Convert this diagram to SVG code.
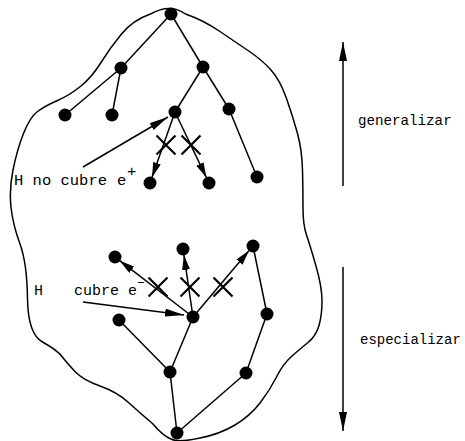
<svg xmlns="http://www.w3.org/2000/svg" width="465" height="441" viewBox="0 0 465 441">
  <defs>
    <marker id="head" markerUnits="userSpaceOnUse" markerWidth="16" markerHeight="9" refX="15" refY="4" orient="auto">
      <path d="M0,0 L15,4 L0,8 z" fill="#000"/>
    </marker>
    <marker id="headLong" markerUnits="userSpaceOnUse" markerWidth="20" markerHeight="9" refX="19" refY="4" orient="auto">
      <path d="M0,0 L19,4 L0,8 z" fill="#000"/>
    </marker>
  </defs>
  <style>
    .hull { fill: none; stroke: #000; stroke-width: 1.5; }
    .edge { stroke: #000; stroke-width: 1.5; fill: none; }
    .arrow { stroke: #000; stroke-width: 1.5; fill: none; marker-end: url(#head); }
    .pointer { stroke: #000; stroke-width: 1.5; fill: none; marker-end: url(#headLong); }
    .cross { stroke: #000; stroke-width: 2.2; fill: none; }
    .node { fill: #000; }
    .lbl { font-family: "Liberation Mono", "Courier New", monospace; fill: #000; }
  </style>

  <!-- boundary of the hypothesis space -->
  <path class="hull" d="M150.5,14 Q170,3 185.5,14 Q203,20 220,31.5 Q237,43 249.5,51.5 Q262,60 271,70 Q280,80 286.5,98.5 Q293,117 297.5,133.5 Q302,150 302.5,170 Q303,190 303,207.5 Q303,225 306.5,235 Q310,245 316,266 Q322,287 322,301 Q322,315 319,325.5 Q316,336 308,342.5 Q300,349 291.5,356.5 Q283,364 276.5,377 Q270,390 260,403 Q250,416 235,425 Q220,434 200,438 Q178,443 171,439 Q163,436 152.5,423.5 Q140,413 128.5,402.5 Q117,392 100,386 Q83,380 75,371.5 Q67,363 62,356.5 Q57,350 42.5,342 Q28,334 27.5,298.5 Q27,263 20,244 Q13,225 11,207.5 Q9,190 13,170 Q17,150 23.5,133.5 Q30,117 37.5,111.5 Q45,106 57.5,100.5 Q70,95 81,86 Q92,77 101,62.5 Q110,48 121.5,34 Q133,20 150.5,14 Z"/>

  <!-- connectors -->
  <g id="connectors">
    <!-- upper tree -->
    <line class="edge" x1="171" y1="14" x2="121" y2="68"/>
    <line class="edge" x1="171" y1="14" x2="203" y2="67"/>
    <line class="edge" x1="121" y1="68" x2="65" y2="115"/>
    <line class="edge" x1="121" y1="68" x2="112" y2="115"/>
    <line class="edge" x1="203" y1="67" x2="175" y2="112"/>
    <line class="edge" x1="203" y1="67" x2="229" y2="109"/>
    <line class="edge" x1="229" y1="109" x2="257" y2="177"/>
    <line class="arrow" x1="175" y1="112" x2="152" y2="177.3"/>
    <line class="arrow" x1="175" y1="112" x2="206.4" y2="177.6"/>
    <!-- lower tree -->
    <line class="edge" x1="177" y1="433" x2="170" y2="372"/>
    <line class="edge" x1="177" y1="433" x2="246" y2="373"/>
    <line class="edge" x1="170" y1="372" x2="119" y2="320"/>
    <line class="edge" x1="170" y1="372" x2="193" y2="317"/>
    <line class="edge" x1="246" y1="373" x2="267" y2="314"/>
    <line class="edge" x1="267" y1="314" x2="253" y2="246"/>
    <line class="arrow" x1="193" y1="317" x2="119.8" y2="260.7"/>
    <line class="arrow" x1="193" y1="317" x2="183.9" y2="254.9"/>
    <line class="arrow" x1="193" y1="317" x2="249.1" y2="250.6"/>
    <!-- label pointers -->
    <line class="pointer" x1="83" y1="167" x2="168" y2="117"/>
    <line class="pointer" x1="83" y1="302" x2="184" y2="315"/>
    <!-- direction arrows -->
    <line class="pointer" x1="343" y1="186" x2="343" y2="42"/>
    <line class="pointer" x1="343" y1="267" x2="343" y2="431"/>
    <!-- blocked refinements -->
    <path class="cross" d="M156.5,135.5 L175.5,154.5 M156.5,154.5 L175.5,135.5"/>
    <path class="cross" d="M181.5,135.5 L200.5,154.5 M181.5,154.5 L200.5,135.5"/>
    <path class="cross" d="M148.5,277.5 L167.5,296.5 M148.5,296.5 L167.5,277.5"/>
    <path class="cross" d="M180.5,277.5 L199.5,296.5 M180.5,296.5 L199.5,277.5"/>
    <path class="cross" d="M213.5,277.5 L232.5,296.5 M213.5,296.5 L232.5,277.5"/>
  </g>

  <!-- upper tree nodes -->
  <g id="n-root"><circle class="node" cx="171" cy="14" r="6.5"/></g>
  <g id="n-a"><circle class="node" cx="121" cy="68" r="6.5"/></g>
  <g id="n-b"><circle class="node" cx="203" cy="67" r="6.5"/></g>
  <g id="n-a1"><circle class="node" cx="65" cy="115" r="6.5"/></g>
  <g id="n-a2"><circle class="node" cx="112" cy="115" r="6.5"/></g>
  <g id="n-b1"><circle class="node" cx="175" cy="112" r="6.5"/></g>
  <g id="n-b2"><circle class="node" cx="229" cy="109" r="6.5"/></g>
  <g id="n-b1a"><circle class="node" cx="150" cy="183" r="6.5"/></g>
  <g id="n-b1b"><circle class="node" cx="209" cy="183" r="6.5"/></g>
  <g id="n-b2a"><circle class="node" cx="257" cy="177" r="6.5"/></g>

  <!-- lower tree nodes -->
  <g id="m-root"><circle class="node" cx="177" cy="433" r="6.5"/></g>
  <g id="m-f"><circle class="node" cx="170" cy="372" r="6.5"/></g>
  <g id="m-g"><circle class="node" cx="246" cy="373" r="6.5"/></g>
  <g id="m-d"><circle class="node" cx="119" cy="320" r="6.5"/></g>
  <g id="m-c"><circle class="node" cx="193" cy="317" r="6.5"/></g>
  <g id="m-e"><circle class="node" cx="267" cy="314" r="6.5"/></g>
  <g id="m-b1"><circle class="node" cx="115" cy="257" r="6.5"/></g>
  <g id="m-b2"><circle class="node" cx="183" cy="249" r="6.5"/></g>
  <g id="m-b3"><circle class="node" cx="253" cy="246" r="6.5"/></g>

  <!-- labels -->
  <g id="label-neg">
    <text class="lbl" x="14" y="185" font-size="15.5">H no cubre <tspan x="117">e</tspan><tspan x="127" y="176">+</tspan></text>
  </g>
  <g id="label-pos">
    <text class="lbl" x="34" y="295" font-size="15">H <tspan x="74">cubre </tspan><tspan x="128">e</tspan><tspan x="137" y="287" font-size="13">−</tspan></text>
  </g>
  <g id="label-gen">
    <text class="lbl" x="358" y="125" font-size="14.2">generalizar</text>
  </g>
  <g id="label-spec">
    <text class="lbl" x="360" y="344" font-size="14">especializar</text>
  </g>
</svg>
